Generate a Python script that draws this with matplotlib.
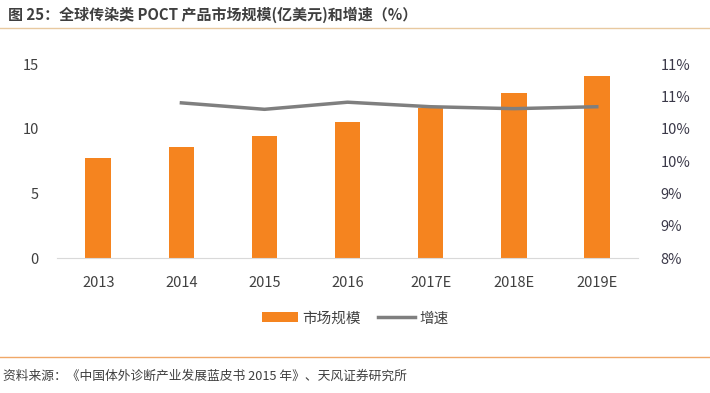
import matplotlib
matplotlib.use("Agg")
import matplotlib.pyplot as plt
from matplotlib.patches import Patch
from matplotlib.lines import Line2D
import numpy as np

plt.rcParams['font.family'] = ['Noto Sans CJK SC', 'DejaVu Sans']

categories = ["2013", "2014", "2015", "2016", "2017E", "2018E", "2019E"]
market_size = [7.75, 8.6, 9.46, 10.5, 11.6, 12.8, 14.1]
growth_years = ["2014", "2015", "2016", "2017E", "2018E", "2019E"]
growth_rate = [10.40, 10.30, 10.41, 10.34, 10.31, 10.34]
left_ticks = [0, 5, 10, 15]
right_ticks = [8.0, 8.5, 9.0, 9.5, 10.0, 10.5, 11.0]
right_labels = ["8%", "9%", "9%", "10%", "10%", "11%", "11%"]

title = "图 25：全球传染类 POCT 产品市场规模(亿美元)和增速（%）"
source = "资料来源：《中国体外诊断产业发展蓝皮书 2015 年》、天风证券研究所"

bar_color = "#F5841F"
line_color = "#7F7F7F"
text_color = "#404040"

fig = plt.figure(figsize=(7.1, 3.93), dpi=100)
ax = fig.add_axes([0.080, 0.3435, 0.819, 0.4935])
x = np.arange(len(categories))
ax.bar(x, market_size, width=0.31, color=bar_color, zorder=2)
ax.set_xlim(-0.5, len(categories) - 0.5)
ax.set_ylim(0, 15)
ax.set_yticks(left_ticks)
ax.set_xticks(x)
ax.set_xticklabels(categories)
for s in ["top", "right", "left"]:
    ax.spines[s].set_visible(False)
ax.spines["bottom"].set_color("#D9D9D9")
ax.tick_params(axis="both", length=0, labelsize=10.5, colors=text_color)
ax.tick_params(axis="x", pad=13)
ax.tick_params(axis="y", pad=13)

ax2 = ax.twinx()
gx = [categories.index(c) for c in growth_years]
ax2.plot(gx, growth_rate, color=line_color, linewidth=2.5, zorder=3)
ax2.set_ylim(8, 11)
ax2.set_yticks(right_ticks)
ax2.set_yticklabels(right_labels)
for s in ["top", "right", "left", "bottom"]:
    ax2.spines[s].set_visible(False)
ax2.tick_params(axis="y", length=0, labelsize=10.5, colors="#3A3848", pad=16)

handles = [Patch(facecolor=bar_color, edgecolor="none"),
           Line2D([0], [0], color=line_color, linewidth=2.5)]
fig.legend(handles, ["市场规模", "增速"], loc="center", bbox_to_anchor=(0.50, 0.19),
           ncol=2, frameon=False, fontsize=10.5, handlelength=2.5, handletextpad=0.3,
           columnspacing=1.2, labelcolor=text_color)

fig.text(0.011, 0.963, title, fontsize=10.8, fontweight="bold", color="#3F3F3F",
         ha="left", va="center")
fig.add_artist(Line2D([0.0, 1.0], [0.928, 0.928], color="#E8C9A0", linewidth=1.0))
fig.add_artist(Line2D([0.0, 1.0], [0.091, 0.091], color="#F0A868", linewidth=1.0))
fig.text(0.004, 0.043, source, fontsize=9.2, color="#404040", ha="left", va="center")

fig.savefig("out.png", dpi=100)
